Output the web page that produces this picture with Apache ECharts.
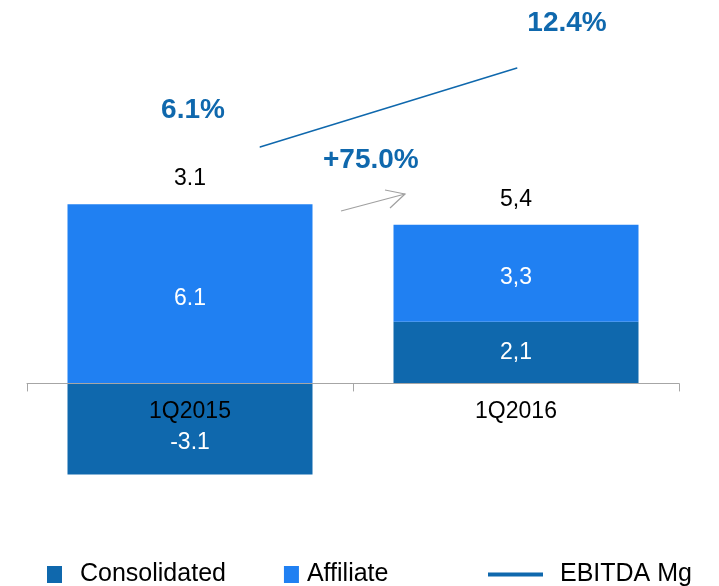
<!DOCTYPE html>
<html>
<head>
<meta charset="utf-8">
<script src="https://cdn.jsdelivr.net/npm/echarts@6/dist/echarts.min.js"></script>
<style>
  html, body { margin: 0; padding: 0; background: #fff; }
  #chart { width: 719px; height: 586px; }
</style>
</head>
<body>
<div id="chart"></div>
<script>
// data
const categories = ['1Q2015', '1Q2016'];
const consolidated = [-3.1, 2.1];
const affiliate = [6.1, 3.3];
const totals = [3.1, 5.4];
const ebitdaMargin = [6.1, 12.4];
const decimalSep = ['.', ','];   // the source mixes both
const growthText = '+75.0%';

const DARK = '#0f68ad';
const LIGHT = '#2080f2';
const FONT = '"Liberation Sans", Arial, sans-serif';

const fmt = (v, i) => String(v.toFixed(1)).replace('.', decimalSep[i]);

const chart = echarts.init(document.getElementById('chart'));

const option = {
    animation: false,
    textStyle: { fontFamily: FONT },
    grid: [
        { left: 27, right: 40, top: 89.5, bottom: 85 },
        // grid for the margin line
        { left: 260, right: 202, top: 48, bottom: 362.5 }
    ],
    xAxis: [
        {
            type: 'category',
            gridIndex: 0,
            data: categories,
            z: 10,
            axisLine: { onZero: true, lineStyle: { color: '#a6a6a6', width: 1 } },
            axisTick: { show: true, length: 8, lineStyle: { color: '#a6a6a6' } },
            axisLabel: { margin: -101, fontSize: 23, color: '#000', fontFamily: FONT }
        },
        {
            type: 'category',
            gridIndex: 1,
            data: categories,
            boundaryGap: false,
            show: false
        }
    ],
    yAxis: [
        { type: 'value', gridIndex: 0, min: -4, max: 10, show: false },
        { type: 'value', gridIndex: 1, min: 0, max: 14, show: false }
    ],
    legend: [
        {
            left: 47, top: 562, padding: 0,
            itemWidth: 15, itemHeight: 17, itemGap: 58,
            icon: 'rect',
            textStyle: { fontSize: 25, color: '#000', fontFamily: FONT },
            data: [
                { name: 'Consolidated', textStyle: { padding: [0, 0, 0, 13] } },
                { name: 'Affiliate', textStyle: { padding: [0, 0, 0, 3] } }
            ]
        },
        {
            left: 488, top: 562, padding: 0,
            itemWidth: 55, itemHeight: 4,
            icon: 'rect',
            itemStyle: { color: DARK },
            textStyle: { fontSize: 25, color: '#000', fontFamily: FONT, padding: [0, 0, 0, 12] },
            data: ['EBITDA Mg']
        }
    ],
    series: [
        {
            name: 'Consolidated',
            type: 'bar',
            stack: 'total',
            xAxisIndex: 0, yAxisIndex: 0,
            barWidth: 245,
            itemStyle: { color: DARK },
            data: consolidated.map((v, i) => ({
                value: v,
                label: {
                    show: true,
                    position: 'inside',
                    offset: v < 0 ? [0, 14] : [0, 0],
                    formatter: () => fmt(v, i),
                    color: '#fff',
                    fontSize: 23,
                    fontFamily: FONT
                }
            }))
        },
        {
            name: 'Affiliate',
            type: 'bar',
            stack: 'total',
            xAxisIndex: 0, yAxisIndex: 0,
            barWidth: 245,
            itemStyle: { color: LIGHT },
            data: affiliate.map((v, i) => ({
                value: v,
                label: {
                    show: true,
                    position: 'inside',
                    offset: [0, i === 0 ? 5 : 4],
                    formatter: () => fmt(v, i),
                    color: '#fff',
                    fontSize: 23,
                    fontFamily: FONT
                }
            }))
        },
        {
            // totals above the stacks, riding on the affiliate tops
            name: 'Total',
            type: 'bar',
            stack: 'total',
            xAxisIndex: 0, yAxisIndex: 0,
            barWidth: 245,
            silent: true,
            itemStyle: { color: 'transparent' },
            data: totals.map((v, i) => ({
                value: 0,
                label: {
                    show: true,
                    position: 'top',
                    distance: 14,
                    formatter: () => fmt(v, i),
                    color: '#000',
                    fontSize: 23,
                    fontFamily: FONT
                }
            }))
        },
        {
            name: 'EBITDA Mg',
            type: 'line',
            xAxisIndex: 1, yAxisIndex: 1,
            symbol: 'circle',
            symbolSize: 1,
            showSymbol: true,
            lineStyle: { color: DARK, width: 1.5 },
            itemStyle: { color: DARK },
            data: ebitdaMargin.map((v, i) => ({
                value: v,
                label: {
                    show: true,
                    position: 'top',
                    offset: i === 0 ? [-67, -17] : [50, -25],
                    formatter: () => v.toFixed(1) + '%',
                    color: DARK,
                    fontSize: 28,
                    fontWeight: 'bold',
                    fontFamily: FONT
                }
            }))
        }
    ],
    graphic: [
        {
            type: 'text',
            left: 372 - 49, top: 146,
            style: { text: growthText, fill: DARK, font: 'bold 28px ' + FONT }
        },
        {
            type: 'polyline',
            shape: { points: [[341, 211], [405, 194]] },
            style: { stroke: '#a0a0a0', lineWidth: 1.2, fill: null }
        },
        {
            type: 'polyline',
            shape: { points: [[385, 190], [405, 194], [390, 208]] },
            style: { stroke: '#a0a0a0', lineWidth: 1.2, fill: null }
        }
    ]
};

chart.setOption(option);
</script>
</body>
</html>
